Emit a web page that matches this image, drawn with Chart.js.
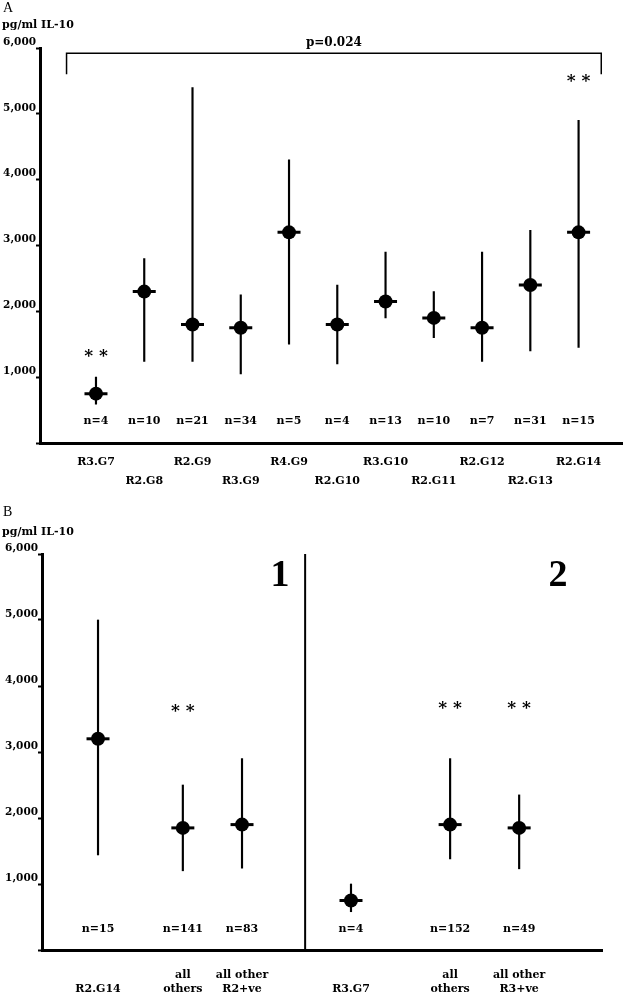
<!DOCTYPE html>
<html>
<head>
<meta charset="utf-8">
<script src="https://cdn.jsdelivr.net/npm/chart.js@4.4.0/dist/chart.umd.min.js"></script>
<style>
  html, body { margin: 0; padding: 0; background: #fff; }
  #wrapA { position: absolute; left: 0; top: 0; width: 637px; height: 497px; }
  #wrapB { position: absolute; left: 0; top: 497px; width: 637px; height: 500px; }
</style>
</head>
<body>
<div id="wrapA"><canvas id="chartA"></canvas></div>
<div id="wrapB"><canvas id="chartB"></canvas></div>
<script>
// panel A - IL-10 per genotype
var groupsA = ['R3.G7', 'R2.G8', 'R2.G9', 'R3.G9', 'R4.G9', 'R2.G10', 'R3.G10', 'R2.G11', 'R2.G12', 'R2.G13', 'R2.G14'];
var meanA = [750, 2300, 1800, 1750, 3200, 1800, 2150, 1900, 1750, 2400, 3200];
var lowA  = [590, 1240, 1240, 1050, 1500, 1200, 1900, 1600, 1240, 1400, 1450];
var highA = [1000, 2800, 5400, 2250, 4300, 2400, 2900, 2300, 2900, 3230, 4900];
var nA    = [4, 10, 21, 34, 5, 4, 13, 10, 7, 31, 15];
var posA  = [1, 2, 3, 4, 5, 6, 7, 8, 9, 10, 11];
var starsA = [0, 10];
var starLevelA = [1380, 5545];

// panel B - grouped comparisons
var groupsB = [['', 'R2.G14'], ['all', 'others'], ['all other', 'R2+ve'], ['', 'R3.G7'], ['all', 'others'], ['all other', 'R3+ve']];
var meanB = [3200, 1850, 1900, 750, 1900, 1850];
var lowB  = [1440, 1200, 1240, 580, 1380, 1230];
var highB = [5000, 2500, 2900, 1000, 2900, 2350];
var nB    = [15, 141, 83, 4, 152, 49];
var posB  = [1, 2.72, 3.92, 6.13, 8.14, 9.54];
var starsB = [1, 4, 5];
var starLevelB = [3680, 3720, 3720];

var yTicks = [0, 1000, 2000, 3000, 4000, 5000, 6000];

var FONT = 'DejaVu Serif';

function markerSets(pos, mean, low, high) {
    var pts = pos.map(function (x, i) { return {x: x, y: mean[i]}; });
    return [{
        type: 'scatter', data: pts, order: 1,
        pointStyle: 'circle', pointRadius: 7,
        pointBackgroundColor: '#000', pointBorderWidth: 0
    }, {
        type: 'scatter', data: pts, order: 2,
        pointStyle: 'line', pointRadius: 11.5,
        pointBorderColor: '#000', pointBorderWidth: 3
    }, {
        type: 'bar', order: 3,
        data: pos.map(function (x, i) { return {x: x, y: [low[i], high[i]]}; }),
        backgroundColor: '#000', barThickness: 1.5
    }];
}

var notes = {
    id: 'notes',
    afterDatasetsDraw: function (chart, args, o) {
        var ctx = chart.ctx, x = chart.scales.x, y = chart.scales.y;
        ctx.save();
        ctx.fillStyle = '#000';
        ctx.textAlign = 'center';
        ctx.textBaseline = 'middle';
        ctx.font = 'bold 11px "' + FONT + '"';
        o.n.forEach(function (n, i) {
            ctx.fillText('n=' + n, x.getPixelForValue(o.pos[i]), y.getPixelForValue(o.nLevel));
        });
        ctx.font = 'bold 17px "' + FONT + '"';
        o.stars.forEach(function (k, i) {
            ctx.fillText('* *', x.getPixelForValue(o.pos[k]), y.getPixelForValue(o.starLevel[i]) + 4);
        });
        o.texts.forEach(function (t) {
            ctx.font = t.font;
            ctx.textAlign = t.align || 'center';
            var px = t.px !== undefined ? t.px : x.getPixelForValue(t.x);
            var py = t.py !== undefined ? t.py : y.getPixelForValue(t.y);
            ctx.fillText(t.text, px, py);
        });
        ctx.restore();
    }
};

function makeChart(id, cfg) {
    return new Chart(document.getElementById(id), {
        type: 'scatter',
        data: {datasets: markerSets(cfg.pos, cfg.mean, cfg.low, cfg.high).concat(cfg.extra)},
        options: {
            responsive: true,
            maintainAspectRatio: false,
            animation: false,
            events: [],
            layout: {padding: cfg.padding},
            plugins: {legend: {display: false}, tooltip: {enabled: false}, notes: cfg.notes},
            scales: {
                x: {
                    type: 'linear', min: cfg.xMin, max: cfg.xMax, offset: false,
                    afterBuildTicks: function (s) { s.ticks = cfg.pos.map(function (v) { return {value: v}; }); },
                    afterFit: function (s) { s.height = cfg.xHeight; },
                    ticks: {
                        autoSkip: false, maxRotation: 0, minRotation: 0,
                        callback: function (v, i) { return cfg.labels[i]; },
                        font: {family: FONT, weight: 'bold', size: 11, lineHeight: cfg.lineHeight},
                        color: '#000', padding: cfg.xPad
                    },
                    grid: {display: true, drawOnChartArea: false, drawTicks: false, offset: false},
                    border: {display: true, color: '#000', width: 3}
                },
                y: {
                    type: 'linear', min: 0, max: 6000,
                    afterBuildTicks: function (s) { s.ticks = yTicks.map(function (v) { return {value: v}; }); },
                    afterFit: function (s) { s.width = cfg.yWidth; },
                    ticks: {
                        callback: function (v) { return v ? v.toLocaleString('en-US') : ''; },
                        font: {family: FONT, weight: 'bold', size: 10.5},
                        color: '#000', padding: 0, labelOffset: -6
                    },
                    grid: {display: true, drawOnChartArea: false, drawTicks: true, tickLength: 4, tickWidth: 2, tickColor: '#000'},
                    border: {display: true, color: '#000', width: 3}
                }
            }
        },
        plugins: [notes]
    });
}

// bracket over panel A
var bracketX = [0.39, 11.47];
var bracketY = [5600, 5920];

makeChart('chartA', {
    pos: posA, mean: meanA, low: lowA, high: highA,
    labels: groupsA.map(function (g, i) { return i % 2 ? ['', g] : g; }),
    xMin: -0.16, xMax: 11.91, xHeight: 54, yWidth: 40, xPad: 10, lineHeight: 19 / 11,
    padding: {top: 48, left: 0, right: 2, bottom: 0},
    extra: [{
        type: 'line', order: 4, showLine: true, pointRadius: 0, borderColor: '#000', borderWidth: 1.5, fill: false,
        data: [{x: bracketX[0], y: bracketY[0]}, {x: bracketX[0], y: bracketY[1]}, {x: bracketX[1], y: bracketY[1]}, {x: bracketX[1], y: bracketY[0]}]
    }],
    notes: {
        pos: posA, n: nA, nLevel: 330, stars: starsA, starLevel: starLevelA,
        texts: [
            {text: 'A', font: '14px "Liberation Serif"', align: 'left', px: 3, py: 8},
            {text: 'pg/ml IL-10', font: 'bold 11px "' + FONT + '"', align: 'left', px: 2, py: 25},
            {text: 'p=0.024', font: 'bold 12px "' + FONT + '"', x: (bracketX[0] + bracketX[1]) / 2, y: 6080}
        ]
    }
});

var dividerB = 5.2;

makeChart('chartB', {
    pos: posB, mean: meanB, low: lowB, high: highB,
    labels: groupsB,
    xMin: -0.136, xMax: 11.22, xHeight: 47, yWidth: 42, xPad: 18, lineHeight: 14 / 11,
    padding: {top: 57, left: 0, right: 35, bottom: 0},
    extra: [{
        type: 'line', order: 4, showLine: true, pointRadius: 0, borderColor: '#000', borderWidth: 2, fill: false,
        data: [{x: dividerB, y: 0}, {x: dividerB, y: 6000}]
    }],
    notes: {
        pos: posB, n: nB, nLevel: 318, stars: starsB, starLevel: starLevelB,
        texts: [
            {text: 'B', font: '14px "Liberation Serif"', align: 'left', px: 3, py: 15},
            {text: 'pg/ml IL-10', font: 'bold 11px "' + FONT + '"', align: 'left', px: 2, py: 35},
            {text: '1', font: 'bold 38px "Liberation Serif"', x: 4.69, y: 5667},
            {text: '2', font: 'bold 38px "Liberation Serif"', x: 10.33, y: 5667}
        ]
    }
});
</script>
</body>
</html>
